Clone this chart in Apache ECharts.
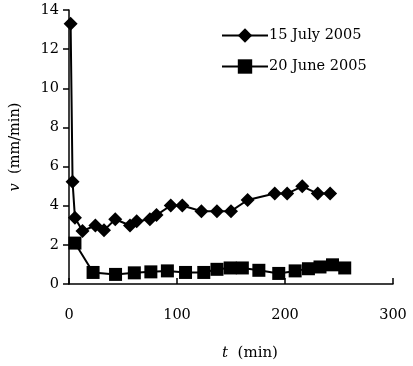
<!DOCTYPE html>
<html><head><meta charset="utf-8">
<script src="https://cdn.jsdelivr.net/npm/echarts@6/dist/echarts.min.js"></script>
<style>html,body{margin:0;padding:0;background:#fff}#c{width:413px;height:366px}</style>
</head><body><div id="c"></div>
<script>
const julyT = [1.5, 3.3, 5.5, 12.5, 24.4, 32.4, 42.8, 56.5, 62.7, 74.9, 81, 94.2, 104.9, 122.6, 137, 150, 165.4, 190.5, 202, 216, 230.3, 241.8];
const julyV = [13.3, 5.22, 3.39, 2.71, 2.99, 2.74, 3.31, 2.99, 3.2, 3.31, 3.52, 4.01, 4.01, 3.72, 3.72, 3.72, 4.29, 4.62, 4.62, 4.99, 4.62, 4.62];
const juneT = [5.5, 22.3, 43.1, 60.5, 75.8, 91.1, 107.9, 124.8, 137, 149.2, 160.5, 175.8, 194.2, 209.4, 221.7, 232.4, 244, 255.3];
const juneV = [2.09, 0.59, 0.49, 0.57, 0.62, 0.67, 0.59, 0.59, 0.75, 0.82, 0.82, 0.70, 0.54, 0.67, 0.78, 0.87, 0.98, 0.82];
const seriesNames = ['15 July 2005', '20 June 2005'];

const font = 'DejaVu Serif';
const chart = echarts.init(document.getElementById('c'));
chart.setOption({
  animation: false,
  textStyle: {fontFamily: font},
  grid: {left: 66, right: 20, top: 10, bottom: 70},
  legend: {
    data: seriesNames,
    orient: 'vertical',
    left: 216, top: 23,
    itemWidth: 46, itemHeight: 18, itemGap: 16,
    textStyle: {fontFamily: font, fontSize: 14.5, color: '#000', padding: [0,0,0,-4]}
  },
  xAxis: {
    type: 'value', min: 0, max: 300, interval: 100,
    name: '{i|t}  (min)', nameLocation: 'middle', nameGap: 62,
    nameTextStyle: {fontFamily: font, fontSize: 15, color: '#000', padding: [0,0,0,38],
      rich: {i: {fontStyle: 'italic', fontFamily: font, fontSize: 15}}},
    axisLine: {lineStyle: {color: '#000', width: 1.5}},
    axisTick: {inside: true, length: 6, lineStyle: {color: '#000', width: 1.5}},
    axisLabel: {margin: 24, fontFamily: font, fontSize: 14.5, color: '#000'},
    splitLine: {show: false}
  },
  yAxis: {
    type: 'value', min: 0, max: 14, interval: 2,
    name: '{i|v}  (mm/min)', nameLocation: 'middle', nameGap: 46, nameRotate: 90,
    nameTextStyle: {fontFamily: font, fontSize: 14.5, color: '#000',
      rich: {i: {fontStyle: 'italic', fontFamily: font, fontSize: 14.5}}},
    axisLine: {show: true, lineStyle: {color: '#000', width: 1.5}},
    axisTick: {show: true, length: 6, lineStyle: {color: '#000', width: 1.5}},
    axisLabel: {margin: 10, fontFamily: font, fontSize: 14.5, color: '#000'},
    splitLine: {show: false}
  },
  series: [
    {name: seriesNames[0], type: 'line', data: julyT.map((t,i)=>[t, julyV[i]]),
     symbol: 'diamond', symbolSize: 14, lineStyle: {color: '#000', width: 2},
     itemStyle: {color: '#000'}},
    {name: seriesNames[1], type: 'line', data: juneT.map((t,i)=>[t, juneV[i]]),
     symbol: 'rect', symbolSize: 13, lineStyle: {color: '#000', width: 2},
     itemStyle: {color: '#000'}}
  ]
});
</script></body></html>
